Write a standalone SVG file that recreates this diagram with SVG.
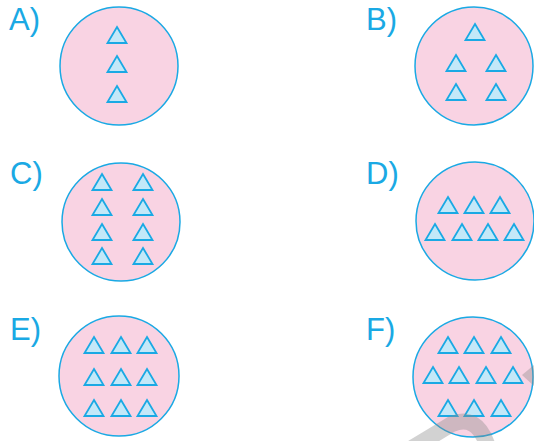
<svg xmlns="http://www.w3.org/2000/svg" xmlns:xlink="http://www.w3.org/1999/xlink" width="534" height="441" viewBox="0 0 534 441">
<style>
.c{fill:#f9d3e3;stroke:#1aa9e4;stroke-width:1.5}
.t{fill:#c3e8f8;stroke:#1aa9e4;stroke-width:1.8;stroke-linejoin:miter}
.l{font-family:"Liberation Sans",Arial,sans-serif;font-size:31px;fill:#1aa9e4}
.w{fill:none;stroke:#8a8a8a;stroke-opacity:0.38;stroke-width:16}
</style>
<defs>
<path id="tri" class="t" d="M0 0 L9.5 16 L-9.5 16 Z"/>
</defs>
<rect width="534" height="441" fill="#ffffff"/>
<g id="nodeA">
<text class="l" x="9" y="30">A)</text>
<circle class="c" cx="119" cy="66" r="59"/>
<use xlink:href="#tri" x="117" y="27"/>
<use xlink:href="#tri" x="117" y="56"/>
<use xlink:href="#tri" x="117" y="86"/>
</g>
<g id="nodeB">
<text class="l" x="366" y="30">B)</text>
<circle class="c" cx="474" cy="66" r="59"/>
<use xlink:href="#tri" x="475" y="24"/>
<use xlink:href="#tri" x="456" y="55"/>
<use xlink:href="#tri" x="496" y="55"/>
<use xlink:href="#tri" x="456" y="84"/>
<use xlink:href="#tri" x="496" y="84"/>
</g>
<g id="nodeC">
<text class="l" x="10" y="184">C)</text>
<circle class="c" cx="121" cy="222" r="59"/>
<use xlink:href="#tri" x="102" y="174"/>
<use xlink:href="#tri" x="143" y="174"/>
<use xlink:href="#tri" x="102" y="199"/>
<use xlink:href="#tri" x="143" y="199"/>
<use xlink:href="#tri" x="102" y="224"/>
<use xlink:href="#tri" x="143" y="224"/>
<use xlink:href="#tri" x="102" y="248"/>
<use xlink:href="#tri" x="143" y="248"/>
</g>
<g id="nodeD">
<text class="l" x="366" y="184">D)</text>
<circle class="c" cx="475" cy="221" r="59"/>
<use xlink:href="#tri" x="448" y="197"/>
<use xlink:href="#tri" x="474" y="197"/>
<use xlink:href="#tri" x="500" y="197"/>
<use xlink:href="#tri" x="435" y="224"/>
<use xlink:href="#tri" x="462" y="224"/>
<use xlink:href="#tri" x="488" y="224"/>
<use xlink:href="#tri" x="514" y="224"/>
</g>
<g id="nodeE">
<text class="l" x="10" y="340">E)</text>
<circle class="c" cx="119" cy="376" r="60"/>
<use xlink:href="#tri" x="94" y="337"/>
<use xlink:href="#tri" x="121" y="337"/>
<use xlink:href="#tri" x="147" y="337"/>
<use xlink:href="#tri" x="94" y="369"/>
<use xlink:href="#tri" x="121" y="369"/>
<use xlink:href="#tri" x="147" y="369"/>
<use xlink:href="#tri" x="94" y="400"/>
<use xlink:href="#tri" x="121" y="400"/>
<use xlink:href="#tri" x="147" y="400"/>
</g>
<g id="nodeF">
<text class="l" x="366" y="340">F)</text>
<circle class="c" cx="473" cy="377" r="60"/>
<use xlink:href="#tri" x="448" y="337"/>
<use xlink:href="#tri" x="474" y="337"/>
<use xlink:href="#tri" x="501" y="337"/>
<use xlink:href="#tri" x="433" y="367"/>
<use xlink:href="#tri" x="459" y="367"/>
<use xlink:href="#tri" x="486" y="367"/>
<use xlink:href="#tri" x="513" y="367"/>
<use xlink:href="#tri" x="448" y="400"/>
<use xlink:href="#tri" x="474" y="400"/>
<use xlink:href="#tri" x="501" y="400"/>
</g>
<g id="connectors"></g>
<g id="watermark">
<path class="w" d="M412 448 L452 424 Q476 414 487 444"/>
<polygon points="522,375 534,365 534,386" fill="#8a8a8a" fill-opacity="0.38"/>
</g>
</svg>
